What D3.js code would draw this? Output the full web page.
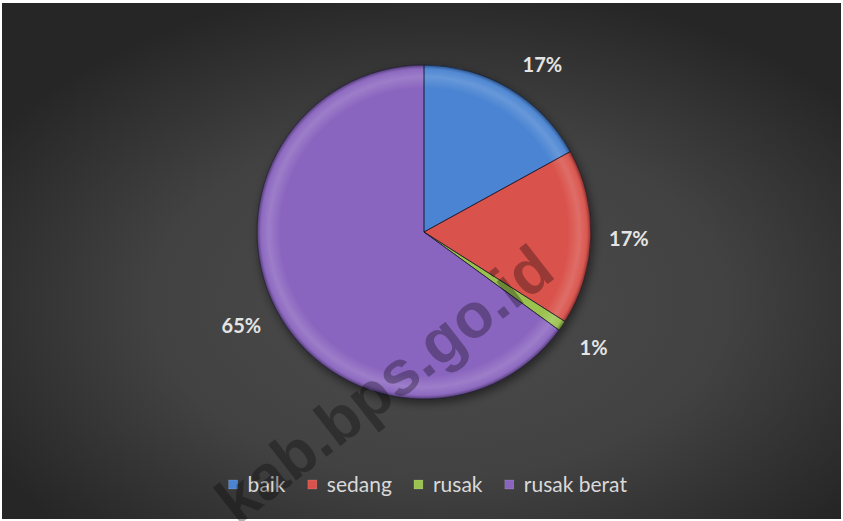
<!DOCTYPE html>
<html>
<head>
<meta charset="utf-8">
<script src="https://cdn.jsdelivr.net/npm/d3@7/dist/d3.min.js"></script>
<style>
  html, body { margin: 0; padding: 0; background: #ffffff; }
  svg { display: block; }
</style>
</head>
<body>
<div id="chart"></div>
<script>
// Kondisi jalan (percentages)
const categories = ["baik", "sedang", "rusak", "rusak berat"];
const values = [17, 17, 1, 65];
const colors = ["#4a84d2", "#d9524b", "#9bc24f", "#8a65bf"];
const watermark = "kab.bps.go.id";

const W = 843, H = 521;
const svg = d3.select("#chart").append("svg")
  .attr("width", W).attr("height", H);

const defs = svg.append("defs");

// dark radial backdrop
const bg = defs.append("radialGradient").attr("id", "bg")
  .attr("cx", "52%").attr("cy", "58%").attr("r", "62%");
bg.append("stop").attr("offset", "0%").attr("stop-color", "#4c4c4c");
bg.append("stop").attr("offset", "55%").attr("stop-color", "#424242");
bg.append("stop").attr("offset", "100%").attr("stop-color", "#262626");

svg.append("rect").attr("x", 2).attr("y", 3).attr("width", W - 4).attr("height", H - 5)
  .attr("fill", "url(#bg)");

const cx = 424, cy = 232, R = 167;

// soft shadow under the pie
const blur = defs.append("filter").attr("id", "shadow")
  .attr("x", "-20%").attr("y", "-20%").attr("width", "140%").attr("height", "140%");
blur.append("feGaussianBlur").attr("stdDeviation", 4);

// bevel rim shading
const rim = defs.append("radialGradient").attr("id", "rim")
  .attr("gradientUnits", "userSpaceOnUse")
  .attr("cx", 0).attr("cy", 0).attr("r", R);
[[0, "#fff", 0], [0.86, "#fff", 0], [0.93, "#fff", 0.16], [0.97, "#fff", 0.05],
 [0.985, "#000", 0.12], [1, "#000", 0.4]].forEach(([o, c, a]) =>
  rim.append("stop").attr("offset", o).attr("stop-color", c).attr("stop-opacity", a));

const g = svg.append("g").attr("transform", `translate(${cx},${cy})`);

g.append("circle").attr("cx", 2).attr("cy", 4).attr("r", R + 1)
  .attr("fill", "#000").attr("opacity", 0.45).attr("filter", "url(#shadow)");

const pie = d3.pie().sort(null).value(d => d)(values);
const arc = d3.arc().innerRadius(0).outerRadius(R);

g.selectAll("path.slice").data(pie).join("path")
  .attr("class", "slice")
  .attr("d", arc)
  .attr("fill", (d, i) => colors[i]);

g.selectAll("path.rim").data(pie).join("path")
  .attr("class", "rim")
  .attr("d", arc)
  .attr("fill", "url(#rim)")
  .attr("stroke", "rgba(20,20,40,0.55)")
  .attr("stroke-width", 1);

// percentage labels outside the pie
const labelArc = d3.arc().innerRadius(205).outerRadius(205);
g.selectAll("text.pct").data(pie).join("text")
  .attr("class", "pct")
  .attr("transform", d => {
    const [x, y] = labelArc.centroid(d);
    // the first label sits a little further round, clear of the rim
    return d.index === 0 ? `translate(${x + 14},${y + 8})` : `translate(${x},${y})`;
  })
  .attr("text-anchor", "middle")
  .attr("dominant-baseline", "central")
  .attr("font-family", "Lato, 'Open Sans', sans-serif")
  .attr("font-weight", "bold")
  .attr("font-size", 20)
  .attr("fill", "#e4e4e4")
  .text(d => d.data + "%");

// legend
const legend = svg.append("g");
const items = legend.selectAll("g").data(categories).join("g");
items.append("rect")
  .attr("width", 9).attr("height", 9).attr("y", -12)
  .attr("fill", (d, i) => colors[i])
  .attr("stroke", "rgba(255,255,255,0.25)").attr("stroke-width", 0.5);
items.append("text")
  .attr("x", 19).attr("y", 0)
  .attr("font-family", "Lato, 'Open Sans', sans-serif")
  .attr("font-size", 21)
  .attr("fill", "#d9d9d9")
  .text(d => d);
let xPos = 0;
items.each(function () {
  const el = d3.select(this);
  el.attr("transform", `translate(${xPos},0)`);
  xPos += this.getBBox().width + 22;
});
const legendWidth = xPos - 22;
legend.attr("transform", `translate(${428 - legendWidth / 2},492)`);

// site watermark
svg.append("text")
  .attr("transform", "translate(384,384) rotate(-38)")
  .attr("text-anchor", "middle")
  .attr("dominant-baseline", "central")
  .attr("font-family", "'Liberation Sans', Arial, sans-serif")
  .attr("font-weight", "bold")
  .attr("font-size", 63)
  .attr("fill", "#000")
  .attr("fill-opacity", 0.3)
  .text(watermark);
</script>
</body>
</html>
